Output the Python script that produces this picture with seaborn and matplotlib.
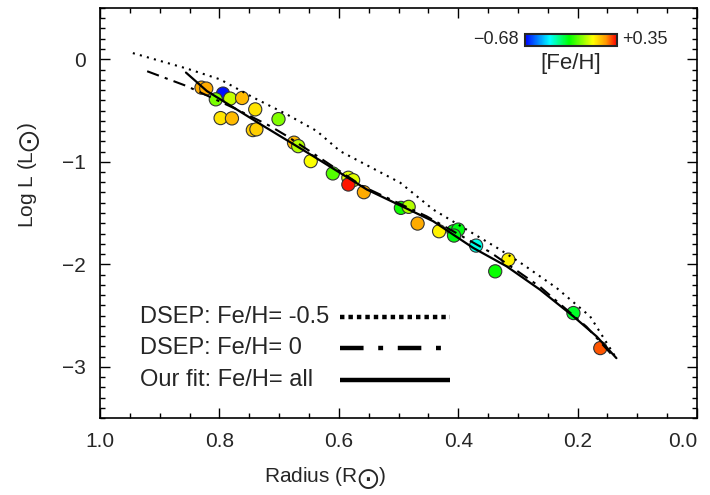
import numpy as np
import pandas as pd
import matplotlib
matplotlib.use("Agg")
import matplotlib.pyplot as plt
import seaborn as sns
from matplotlib.colors import LinearSegmentedColormap, Normalize
from matplotlib.ticker import MultipleLocator

# ---------------- data ----------------
radius = [0.830, 0.822, 0.794, 0.806, 0.782, 0.762, 0.740, 0.798, 0.779, 0.701,
          0.744, 0.738, 0.675, 0.668, 0.647, 0.610, 0.584, 0.576, 0.584, 0.558,
          0.496, 0.483, 0.468, 0.432, 0.408, 0.400, 0.407, 0.370, 0.316, 0.338,
          0.207, 0.162]
logl = [-0.277, -0.286, -0.335, -0.391, -0.384, -0.378, -0.489, -0.574, -0.577, -0.584,
        -0.691, -0.684, -0.814, -0.848, -0.994, -1.114, -1.156, -1.180, -1.222, -1.297,
        -1.450, -1.440, -1.603, -1.678, -1.678, -1.662, -1.720, -1.818, -1.955, -2.069,
        -2.476, -2.818]
feh = [0.20, 0.20, -0.66, -0.06, 0.02, 0.18, 0.12, 0.12, 0.18, -0.05,
       0.15, 0.15, 0.18, 0.00, 0.08, -0.10, 0.05, 0.05, 0.33, 0.20,
       -0.17, 0.00, 0.20, 0.10, -0.20, -0.20, -0.20, -0.38, 0.10, -0.18,
       -0.22, 0.28]

dsep_m05_r = [0.945, 0.855, 0.799, 0.743, 0.687, 0.637, 0.598, 0.497, 0.442, 0.386,
              0.330, 0.291, 0.235, 0.179, 0.137]
dsep_m05_l = [0.06, -0.09, -0.196, -0.374, -0.538, -0.70, -0.896, -1.205, -1.466, -1.662,
              -1.857, -2.004, -2.232, -2.509, -2.900]

dsep_0_r = [0.921, 0.855, 0.771, 0.715, 0.687, 0.640, 0.560, 0.453, 0.347, 0.263,
            0.185, 0.140]
dsep_0_l = [-0.117, -0.261, -0.489, -0.652, -0.749, -0.930, -1.240, -1.532, -1.880, -2.220,
            -2.610, -2.900]

fit_r = [0.856, 0.821, 0.726, 0.643, 0.553, 0.442, 0.375, 0.319, 0.263, 0.207,
         0.168, 0.135]
fit_l = [-0.13, -0.31, -0.652, -0.945, -1.271, -1.58, -1.84, -2.02, -2.248, -2.509,
         -2.705, -2.916]

legend_labels = ["DSEP: Fe/H= -0.5", "DSEP: Fe/H= 0", "Our fit: Fe/H= all"]
feh_min, feh_max = -0.68, 0.35

# ---------------- style ----------------
sns.set_style("ticks")
plt.rcParams['font.family'] = ['Liberation Sans', 'DejaVu Sans']
plt.rcParams['mathtext.fontset'] = 'dejavusans'

cmap = LinearSegmentedColormap.from_list(
    "fehmap",
    [(0.0, "#0000ff"), (0.27, "#00ffff"), (0.48, "#00ff00"),
     (0.74, "#ffff00"), (0.88, "#ff9900"), (1.0, "#ff0000")])
norm = Normalize(feh_min, feh_max)

fig = plt.figure(figsize=(7.1, 4.95), dpi=100)
ax = fig.add_axes([100/710, 1-418/495, 597/710, 410/495])

df = pd.DataFrame({"radius": radius, "logl": logl, "feh": feh})
sns.scatterplot(data=df, x="radius", y="logl", hue="feh", palette=cmap,
                hue_norm=norm, s=90, edgecolor="#333333", linewidth=0.8,
                legend=False, ax=ax, zorder=2)

d1 = pd.DataFrame({"r": dsep_m05_r, "l": dsep_m05_l})
d2 = pd.DataFrame({"r": dsep_0_r, "l": dsep_0_l})
d3 = pd.DataFrame({"r": fit_r, "l": fit_l})
sns.lineplot(data=d1, x="r", y="l", color="black", lw=1.5,
             linestyle=(0, (1, 2.5)), ax=ax, zorder=3, sort=False)
sns.lineplot(data=d2, x="r", y="l", color="black", lw=1.5,
             linestyle=(0, (6, 3, 1.5, 3)), ax=ax, zorder=3, sort=False)
sns.lineplot(data=d3, x="r", y="l", color="black", lw=1.6,
             linestyle="-", ax=ax, zorder=3, sort=False)

ax.set_xlim(1.0, 0.0)
ax.set_ylim(-3.5, 0.5)
ax.xaxis.set_major_locator(MultipleLocator(0.2))
ax.xaxis.set_minor_locator(MultipleLocator(0.05))
ax.yaxis.set_major_locator(MultipleLocator(1))
ax.yaxis.set_minor_locator(MultipleLocator(0.1))
ax.xaxis.set_major_formatter(matplotlib.ticker.FormatStrFormatter("%.1f"))
ax.tick_params(which="both", direction="in", top=True, right=True,
               labelsize=15, width=1.0, color="black")
ax.tick_params(which="major", length=7, pad=10)
ax.tick_params(which="minor", length=3.6)
for s in ax.spines.values():
    s.set_linewidth(1.2)
    s.set_color("black")

fig.canvas.draw()
xlabels = ax.get_xticklabels()
for lbl in xlabels:
    if lbl.get_text() == "0.0":
        lbl.set_ha("right")
        lbl.set_x(lbl.get_position()[0])
ax.set_xticks(ax.get_xticks())
ax.set_xticklabels([l.get_text() for l in xlabels])
for lbl in ax.get_xticklabels():
    if lbl.get_text() == "0.0":
        lbl.set_ha("right")
ax.set_xlim(1.0, 0.0)

ax.set_xlabel(r"Radius (R$_{\bigodot}$)", fontsize=15)
ax.set_ylabel(r"Log L (L$_{\bigodot}$)", fontsize=15)
ax.xaxis.set_label_coords((325-100)/597, -0.115)
ax.yaxis.set_label_coords(-0.095, 0.593)

# legend drawn as text + line keys
styles = [dict(linestyle=(0, (1, 0.9)), lw=3.2),
          dict(linestyle=(0, (5.3, 3.3, 1.1, 3.3)), lw=3.2),
          dict(linestyle="-", lw=3.2)]
rows_y = [0.247, 0.170, 0.092]
for lab, st, yy in zip(legend_labels, styles, rows_y):
    ax.text(0.067, yy, lab, transform=ax.transAxes, fontsize=17,
            va="center", ha="left")
    ax.plot([0.402, 0.586], [yy, yy], transform=ax.transAxes,
            color="black", solid_capstyle="butt", dash_capstyle="butt", **st)

# colorbar
cax = fig.add_axes([525/710, 1-45.5/495, 92/710, 11.5/495])
sm = matplotlib.cm.ScalarMappable(norm=norm, cmap=cmap)
cb = fig.colorbar(sm, cax=cax, orientation="horizontal")
cb.set_ticks([])
cb.outline.set_linewidth(1.5)
fig.text(519/710, 1-39/495, "\u22120.68", ha="right", va="center", fontsize=13)
fig.text(622/710, 1-39/495, "+0.35", ha="left", va="center", fontsize=13)
fig.text(571/710, 1-64/495, "[Fe/H]", ha="center", va="center", fontsize=16)

fig.savefig("out.png", dpi=100)
